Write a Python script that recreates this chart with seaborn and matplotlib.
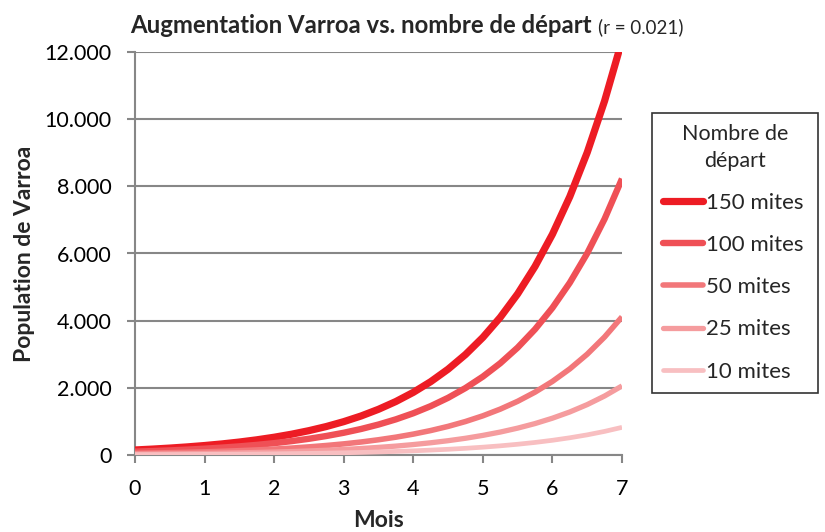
import matplotlib
matplotlib.use("Agg")
import matplotlib.pyplot as plt
import pandas as pd
import seaborn as sns
from matplotlib.ticker import FuncFormatter

sns.set_theme(style="white")
plt.rcParams["font.family"] = ["Lato", "DejaVu Sans"]

# values, every quarter month
mois = [0, 0.25, 0.5, 0.75, 1, 1.25, 1.5, 1.75, 2, 2.25, 2.5, 2.75, 3, 3.25, 3.5,
        3.75, 4, 4.25, 4.5, 4.75, 5, 5.25, 5.5, 5.75, 6, 6.25, 6.5, 6.75, 7]
mites_150 = [150, 176, 206, 241, 282, 330, 386, 452, 529, 619, 725, 848, 993, 1162, 1361,
             1593, 1865, 2183, 2555, 2991, 3501, 4098, 4797, 5616, 6573, 7695, 9008, 10545, 12341]
mites_100 = [100, 117, 137, 160, 188, 220, 257, 301, 353, 413, 483, 566, 662, 775, 907,
             1062, 1243, 1455, 1703, 1994, 2334, 2732, 3198, 3744, 4382, 5130, 6005, 7030, 8227]
mites_50 = [50, 59, 69, 80, 94, 110, 129, 151, 176, 206, 242, 283, 331, 387, 454,
            531, 622, 728, 852, 997, 1167, 1366, 1599, 1872, 2191, 2565, 3002, 3515, 4114]
mites_25 = [25, 29, 34, 40, 47, 55, 64, 75, 88, 103, 121, 141, 165, 194, 227,
            265, 311, 364, 426, 498, 584, 683, 800, 936, 1096, 1282, 1501, 1757, 2057]
mites_10 = [10, 12, 14, 16, 19, 22, 26, 30, 35, 41, 48, 57, 66, 77, 91,
            106, 124, 146, 170, 199, 233, 273, 320, 374, 438, 513, 600, 703, 823]

series = ["150 mites", "100 mites", "50 mites", "25 mites", "10 mites"]
couleurs = ["#ed1c24", "#ef5056", "#f2777a", "#f59c9e", "#f8bfc1"]
epaisseurs = [5.2, 4.6, 4.0, 3.8, 3.4]

df = pd.DataFrame({
    "Mois": mois * 5,
    "Population": mites_150 + mites_100 + mites_50 + mites_25 + mites_10,
    "Serie": [s for s in series for _ in mois],
})

fig = plt.figure(figsize=(8.25, 5.32), dpi=100)
ax = fig.add_axes([135 / 825, 1 - 455 / 532, 487 / 825, 403 / 532])

for s, c, lw in zip(series, couleurs, epaisseurs):
    sns.lineplot(data=df[df["Serie"] == s], x="Mois", y="Population",
                 color=c, linewidth=lw, label=s, ax=ax,
                 solid_capstyle="butt", solid_joinstyle="round", zorder=3)

grey = "#878787"
ax.set_xlim(0, 7)
ax.set_ylim(0, 12000)
ax.set_xticks(range(8))
ax.set_yticks(range(0, 12001, 2000))
ax.yaxis.set_major_formatter(FuncFormatter(lambda v, p: f"{int(v):,}".replace(",", ".")))
ax.grid(axis="y", color=grey, linewidth=1.5)
ax.grid(axis="x", visible=False)
ax.set_axisbelow(True)
for side in ["top", "right"]:
    ax.spines[side].set_visible(False)
for side in ["left", "bottom"]:
    ax.spines[side].set_color(grey)
    ax.spines[side].set_linewidth(1.5)
ax.tick_params(axis="both", direction="out", length=6, width=1.5, color=grey,
               labelsize=15.5, labelcolor="black", pad=11, left=True, bottom=True)

ax.set_xlabel("Mois", fontsize=16.5, fontweight="bold")
ax.set_ylabel("Population de Varroa", fontsize=16.5, fontweight="bold")
ax.xaxis.set_label_coords(0.5, -0.137)
ax.yaxis.set_label_coords(-0.205, 0.5)

leg = ax.legend(title="Nombre de\ndépart", fontsize=16, title_fontsize=15.5,
                loc="upper left", mode="expand",
                bbox_to_anchor=(652 / 825, 1 - 390 / 532, 166 / 825, 277 / 532),
                bbox_transform=fig.transFigure, borderaxespad=0,
                handlelength=1.8, handletextpad=0.15, labelspacing=1.0,
                borderpad=0.5, fancybox=False, frameon=True)
leg.get_frame().set_edgecolor("black")
leg.get_frame().set_linewidth(1.2)
leg.get_title().set_linespacing(1.4)
leg.get_title().set_multialignment("center")
for line in leg.get_lines():
    line.set_solid_capstyle("round")

t1 = fig.text(130 / 825, 1 - 33 / 532, "Augmentation Varroa vs. nombre de départ",
              fontsize=17.2, fontweight="bold", va="baseline", ha="left")
fig.canvas.draw()
bb = t1.get_window_extent()
x_next = (bb.x1 + 6) / fig.bbox.width
fig.text(x_next, 1 - 33 / 532, "(r = 0.021)", fontsize=13.5, va="baseline", ha="left")

fig.savefig("out.png", dpi=100)
